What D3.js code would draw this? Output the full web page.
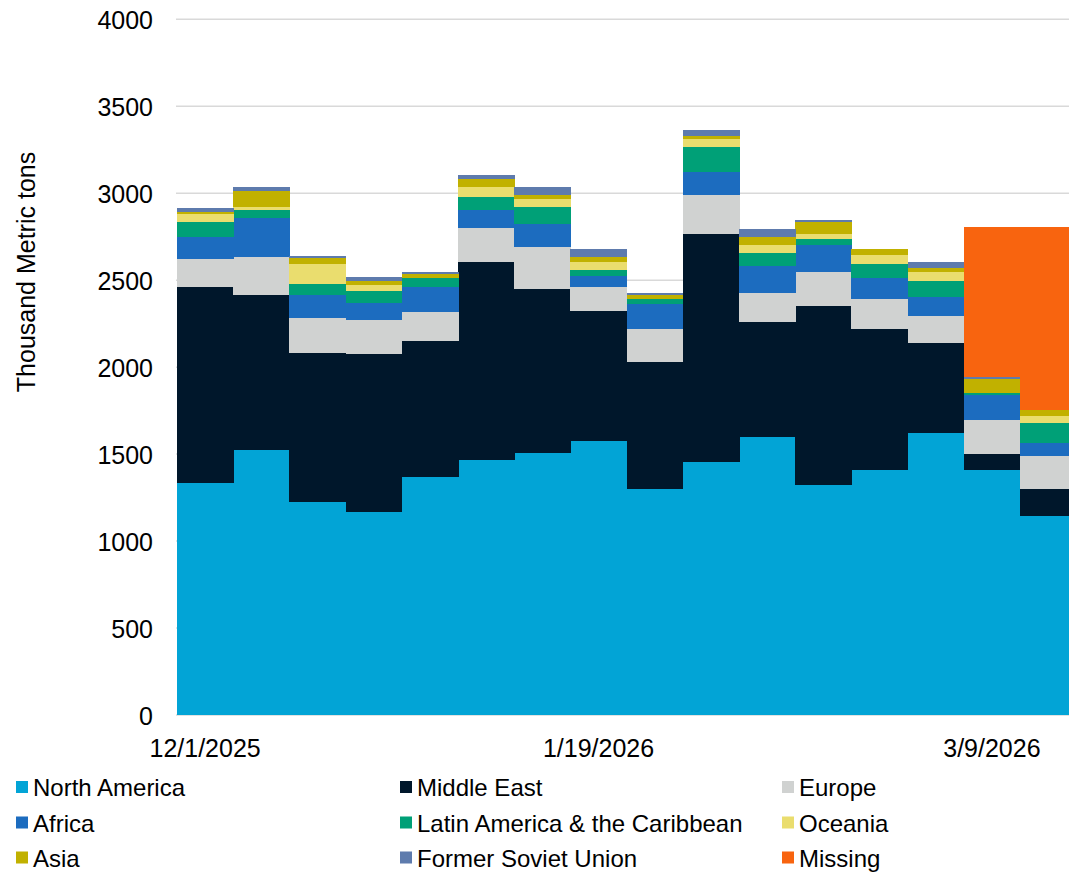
<!DOCTYPE html>
<html>
<head>
<meta charset="utf-8">
<script src="https://cdn.jsdelivr.net/npm/d3@7"></script>
<style>
  body { margin: 0; background: #fff; }
  text { font-family: "Liberation Sans", Arial, sans-serif; fill: #000; }
</style>
</head>
<body>
<div id="chart"></div>
<script>
// weekly data, thousand metric tons
var weeks = ["12/1/2025","12/8/2025","12/15/2025","12/22/2025","12/29/2025","1/5/2026","1/12/2026","1/19/2026",
             "1/26/2026","2/2/2026","2/9/2026","2/16/2026","2/23/2026","3/2/2026","3/9/2026","3/16/2026"];
var tickWeeks = ["12/1/2025","1/19/2026","3/9/2026"];
var yTicks = [0,500,1000,1500,2000,2500,3000,3500,4000];

var northAmerica = [1333,1523,1224,1167,1368,1466,1506,1575,1299,1454,1598,1322,1408,1621,1408,1144];
var middleEast   = [1127, 891, 856, 908, 781,1137, 942, 747, 730,1310, 661,1029, 810, 517,  92, 155];
var europe       = [ 161, 218, 202, 195, 167, 196, 242, 138, 189, 225, 166, 195, 173, 155, 195, 190];
var africa       = [ 126, 224, 132,  98, 144, 102, 132,  63, 144, 132, 155, 155, 120, 109, 144,  74];
var latinAmerica = [  86,  46,  63,  69,  51,  80,  98,  34,  29, 143,  75,  35,  81,  92,  12, 115];
var oceania      = [  46,  18, 115,  34,   0,  57,  46,  46,   0,  46,  46,  29,  52,  52,   0,  40];
var asia         = [  14,  91,  34,  23,  23,  41,  23,  29,  23,  18,  46,  69,  34,  23,  80,  35];
var formerSoviet = [  21,  23,  12,  23,  12,  23,  45,  46,  11,  34,  46,  12,   0,  34,  12,   0];
var missing      = [   0,   0,   0,   0,   0,   0,   0,   0,   0,   0,   0,   0,   0,   0, 862,1052];

var seriesNames = ["North America","Middle East","Europe","Africa","Latin America & the Caribbean",
                   "Oceania","Asia","Former Soviet Union","Missing"];
var seriesValues = [northAmerica, middleEast, europe, africa, latinAmerica, oceania, asia, formerSoviet, missing];
var seriesColors = ["#02a4d6","#00172b","#d0d2d1","#1c6cbf","#00a077","#eadd6e","#c1b100","#5e7bad","#f8640f"];

var W = 1069, H = 873;

var svg = d3.select("#chart")
  .append("svg")
  .attr("width", W)
  .attr("height", H);

// rows for the stack
var rows = weeks.map(function(w, i) {
  var r = { week: w };
  seriesNames.forEach(function(name, k) { r[name] = seriesValues[k][i]; });
  return r;
});

var stack = d3.stack().keys(seriesNames);
var layers = stack(rows);

var xScale = d3.scaleBand().domain(weeks).range([177, 177 + 16 * 56.2]).padding(0);
var yScale = d3.scaleLinear().domain([0, 4000]).range([715, 19.3]);
var colorScale = d3.scaleOrdinal().domain(seriesNames).range(seriesColors);

// gridlines
svg.append("g")
  .selectAll("line")
  .data(yTicks)
  .enter().append("line")
  .attr("x1", 176)
  .attr("x2", W)
  .attr("y1", function(d) { return yScale(d); })
  .attr("y2", function(d) { return yScale(d); })
  .attr("stroke", "#d9d9d9")
  .attr("stroke-width", 1.5);

// bars
svg.append("g")
  .selectAll("g")
  .data(layers)
  .enter().append("g")
  .attr("fill", function(d) { return colorScale(d.key); })
  .selectAll("rect")
  .data(function(d) { return d; })
  .enter().append("rect")
  .attr("x", function(d) { return xScale(d.data.week); })
  .attr("width", xScale.bandwidth() + 0.5)
  .attr("y", function(d) { return yScale(d[1]); })
  .attr("height", function(d) { return Math.max(0, yScale(d[0]) - yScale(d[1])); })
  .attr("shape-rendering", "crispEdges");

// y axis labels
var yAxis = d3.axisLeft(yScale).tickValues(yTicks).tickFormat(d3.format("d")).tickSize(0).tickPadding(0);
var yg = svg.append("g")
  .attr("transform", "translate(153,0)")
  .call(yAxis);
yg.select(".domain").remove();
yg.selectAll("text")
  .attr("font-size", "25px")
  .attr("font-family", "'Liberation Sans', Arial, sans-serif")
  .attr("fill", "#000")
  .attr("dy", "0.36em");

// x axis labels
var xAxis = d3.axisBottom(xScale).tickValues(tickWeeks).tickSize(0).tickPadding(0);
var xg = svg.append("g")
  .attr("transform", "translate(0,715)")
  .call(xAxis);
xg.select(".domain").remove();
xg.selectAll("text")
  .attr("font-size", "25px")
  .attr("font-family", "'Liberation Sans', Arial, sans-serif")
  .attr("fill", "#000")
  .attr("dy", null)
  .attr("y", 42);

// axis title
svg.append("text")
  .attr("transform", "translate(35,272) rotate(-90)")
  .attr("text-anchor", "middle")
  .attr("font-size", "25px")
  .text("Thousand Metric tons");

// legend, 3 columns
var legendCols = [16, 400, 782];
var legendRows = [787.5, 823, 858];
var legend = svg.append("g")
  .selectAll("g")
  .data(seriesNames)
  .enter().append("g")
  .attr("transform", function(d, i) {
    return "translate(" + legendCols[i % 3] + "," + legendRows[Math.floor(i / 3)] + ")";
  });

legend.append("rect")
  .attr("x", 0)
  .attr("y", -6.5)
  .attr("width", 12)
  .attr("height", 12)
  .attr("fill", function(d) { return colorScale(d); });

legend.append("text")
  .attr("x", 17)
  .attr("y", 8.5)
  .attr("font-size", "24px")
  .text(function(d) { return d; });
</script>
</body>
</html>
